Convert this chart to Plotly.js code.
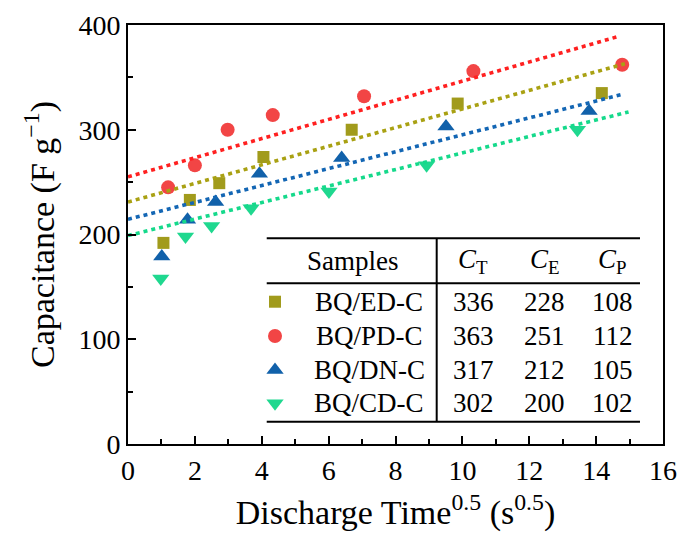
<!DOCTYPE html>
<html>
<head>
<meta charset="utf-8">
<script src="https://cdn.plot.ly/plotly-3.0.1.min.js"></script>
<style>html,body{margin:0;padding:0;background:#fff;}#chart{width:683px;height:535px;}</style>
</head>
<body>
<div id="chart"></div>
<script>
// ---- data ----
var sampleNames = ['BQ/ED-C', 'BQ/PD-C', 'BQ/DN-C', 'BQ/CD-C'];
var edX = [1.06, 1.85, 2.73, 4.05, 6.69, 9.86, 14.17];
var edY = [192, 233, 249, 274, 300, 325, 335];
var pdX = [1.2, 2.0, 2.98, 4.33, 7.06, 10.33, 14.78];
var pdY = [245, 266, 300, 314, 332, 356, 362];
var dnX = [1.01, 1.78, 2.62, 3.93, 6.39, 9.51, 13.79];
var dnY = [179, 214, 231, 258, 273, 303, 318];
var cdX = [0.98, 1.72, 2.50, 3.68, 6.01, 8.93, 13.44];
var cdY = [158, 198, 208, 225, 241, 266, 300];
// fitted lines (start / end)
var edFitX = [0, 14.86], edFitY = [231, 363];
var pdFitX = [0, 14.66], pdFitY = [255, 389];
var dnFitX = [0, 14.81], dnFitY = [214.5, 334];
var cdFitX = [0, 14.97], cdFitY = [199, 317];
// table values
var cT = [336, 363, 317, 302];
var cE = [228, 251, 212, 200];
var cP = [108, 112, 105, 102];
var xTickVals = [0, 2, 4, 6, 8, 10, 12, 14, 16];
var yTickVals = [0, 100, 200, 300, 400];

// ---- styles ----
var markerColors = ['#A19B1C', '#F24545', '#1161AA', '#1FD88F'];
var lineColors = ['#A9A113', '#FF2020', '#1366B4', '#15D98B'];
var symbols = ['square', 'circle', 'triangle-up', 'triangle-down'];
var sizes = [12, 14, 15, 15];
var FONT = '"Liberation Serif", "Times New Roman", serif';

var ptsX = [edX, pdX, dnX, cdX], ptsY = [edY, pdY, dnY, cdY];
var fitXs = [edFitX, pdFitX, dnFitX, cdFitX], fitYs = [edFitY, pdFitY, dnFitY, cdFitY];

var traces = [];
for (var i = 0; i < 4; i++) {
  traces.push({
    x: ptsX[i], y: ptsY[i], type: 'scatter', mode: 'markers', name: sampleNames[i],
    marker: {symbol: symbols[i], size: sizes[i], color: markerColors[i], line: {width: 0}},
    showlegend: false, cliponaxis: false
  });
}
for (var i = 0; i < 4; i++) {
  traces.push({
    x: fitXs[i], y: fitYs[i], type: 'scatter', mode: 'lines', name: sampleNames[i] + ' fit',
    line: {color: lineColors[i], width: 3.6, dash: '4px,4px'},
    showlegend: false
  });
}

// table layout (paper fractions of the plot area)
var rowY = [0.3396, 0.2578, 0.1766, 0.0971];
var headY = 0.437;
var colX = {name: 0.4505, t: 0.645, e: 0.779, p: 0.9065, key: 0.2748};
// keys of the table drawn on an invisible overlay axis (0..1)
for (var i = 0; i < 4; i++) {
  traces.push({
    x: [colX.key], y: [rowY[i]], xaxis: 'x2', yaxis: 'y2', type: 'scatter', mode: 'markers',
    marker: {symbol: symbols[i], size: sizes[i], color: markerColors[i], line: {width: 0}},
    showlegend: false, hoverinfo: 'skip'
  });
}

var ann = [];
function addText(x, y, t) {
  ann.push({xref: 'paper', yref: 'paper', x: x, y: y, text: t, showarrow: false,
    xanchor: 'center', yanchor: 'middle', font: {family: FONT, size: 27, color: '#000'}});
}
addText(0.4206, headY, 'Samples');
addText(colX.t, headY, '<i>C</i><sub>T</sub>');
addText(colX.e, headY, '<i>C</i><sub>E</sub>');
addText(colX.p, headY, '<i>C</i><sub>P</sub>');
for (var i = 0; i < 4; i++) {
  addText(colX.name, rowY[i], sampleNames[i]);
  addText(colX.t, rowY[i], String(cT[i]));
  addText(colX.e, rowY[i], String(cE[i]));
  addText(colX.p, rowY[i], String(cP[i]));
}

var lineStyle = {color: '#000', width: 2};
var shapes = [
  {type: 'line', xref: 'paper', yref: 'paper', x0: 0.2593, x1: 0.957, y0: 0.491, y1: 0.491, line: lineStyle},
  {type: 'line', xref: 'paper', yref: 'paper', x0: 0.2593, x1: 0.957, y0: 0.3835, y1: 0.3835, line: lineStyle},
  {type: 'line', xref: 'paper', yref: 'paper', x0: 0.2593, x1: 0.957, y0: 0.0532, y1: 0.0532, line: lineStyle},
  {type: 'line', xref: 'paper', yref: 'paper', x0: 0.577, x1: 0.577, y0: 0.0532, y1: 0.491, line: lineStyle}
];

var layout = {
  width: 683, height: 535,
  margin: {l: 128, r: 20, t: 25, b: 91},
  paper_bgcolor: '#fff', plot_bgcolor: '#fff',
  font: {family: FONT, color: '#000', size: 28},
  showlegend: false,
  xaxis: {
    range: [0, 16], tickvals: xTickVals, ticktext: xTickVals.map(String),
    ticks: 'inside', ticklen: 8, tickwidth: 2, tickcolor: '#000',
    minor: {dtick: 1, tick0: 0, ticks: 'inside', ticklen: 5, tickwidth: 2, tickcolor: '#000', showgrid: false},
    showline: true, linecolor: '#000', linewidth: 2, mirror: true,
    showgrid: false, zeroline: false,
    tickfont: {family: FONT, size: 28, color: '#000'},
    title: {text: 'Discharge Time<sup>0.5</sup> (s<sup>0.5</sup>)', font: {family: FONT, size: 34, color: '#000'}, standoff: 16}
  },
  yaxis: {
    range: [0, 400], tickvals: yTickVals, ticktext: yTickVals.map(String),
    ticks: 'inside', ticklen: 8, tickwidth: 2, tickcolor: '#000',
    minor: {dtick: 50, tick0: 0, ticks: 'inside', ticklen: 5, tickwidth: 2, tickcolor: '#000', showgrid: false},
    showline: true, linecolor: '#000', linewidth: 2, mirror: true,
    showgrid: false, zeroline: false,
    tickfont: {family: FONT, size: 28, color: '#000'},
    title: {text: 'Capacitance (F g<sup>\u22121</sup>)', font: {family: FONT, size: 34, color: '#000'}, standoff: 14}
  },
  xaxis2: {overlaying: 'x', anchor: 'y2', range: [0, 1], visible: false, fixedrange: true},
  yaxis2: {overlaying: 'y', anchor: 'x2', range: [0, 1], visible: false, fixedrange: true},
  annotations: ann,
  shapes: shapes
};

Plotly.newPlot('chart', traces, layout, {displayModeBar: false});
</script>
</body>
</html>
